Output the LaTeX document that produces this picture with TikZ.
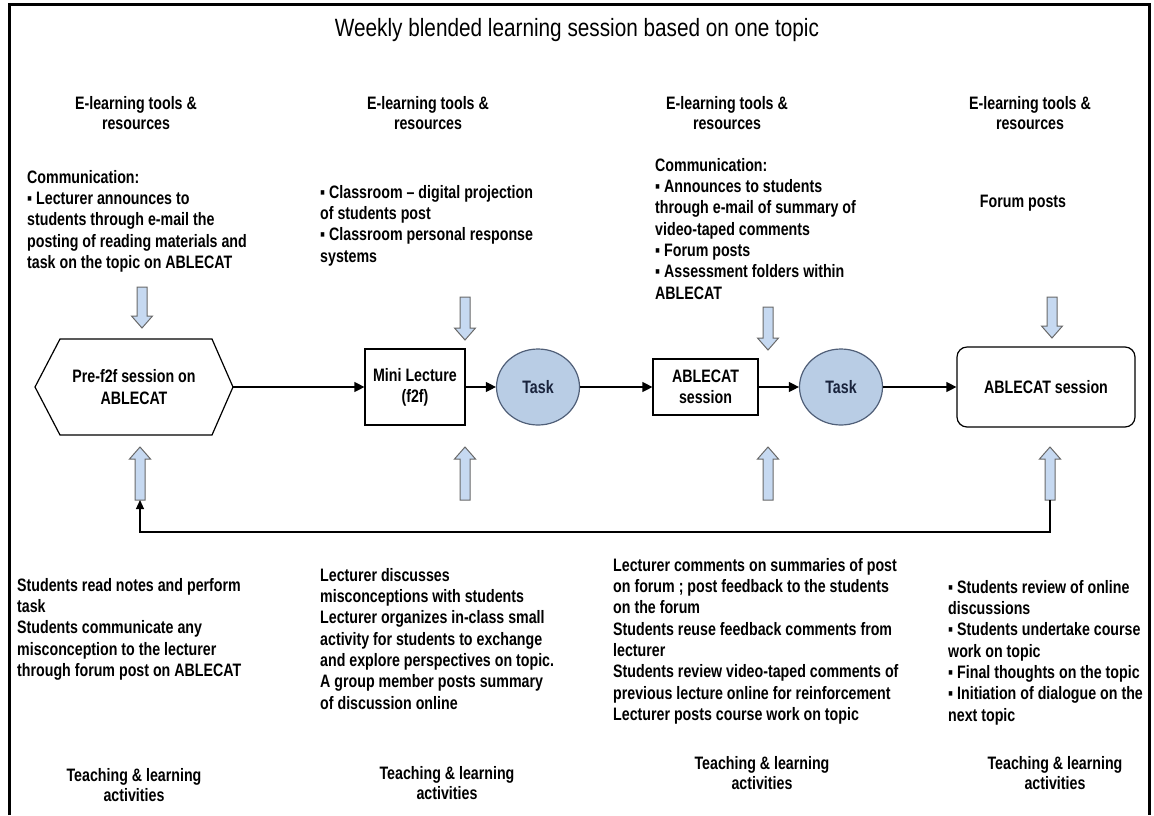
\documentclass[tikz,border=0pt]{standalone}
\usepackage{fontspec}
\setmainfont{Liberation Sans}[FakeStretch=0.79]
\newfontfamily\titlefont{Liberation Sans}[FakeStretch=0.83]
\usetikzlibrary{arrows.meta,shapes.geometric}
\definecolor{arrfill}{RGB}{198,217,241}
\definecolor{arredge}{RGB}{105,105,105}
\definecolor{taskfill}{RGB}{185,205,229}
\definecolor{taskedge}{RGB}{80,95,120}
\definecolor{tasktext}{RGB}{25,35,60}
\newcommand{\blkdown}[4]{%
  \draw[blk] (#2-5,#3) -- (#2+5,#3) -- (#2+5,#4-12) -- (#2+10.5,#4-12) -- (#2,#4) -- (#2-10.5,#4-12) -- (#2-5,#4-12) -- cycle;
  \coordinate (#1) at (#2,#4);}
\newcommand{\blkup}[4]{%
  \draw[blk] (#2-5,#4) -- (#2-5,#3+12) -- (#2-10.5,#3+12) -- (#2,#3) -- (#2+10.5,#3+12) -- (#2+5,#3+12) -- (#2+5,#4) -- cycle;
  \coordinate (#1) at (#2,#4);}
\begin{document}
\begin{tikzpicture}[x=1pt,y=-1pt,
  txt/.style={font=\bfseries\fontsize{18}{21.3}\selectfont, inner sep=0pt, align=left, anchor=north west},
  hdr/.style={font=\bfseries\fontsize{18}{20}\selectfont, inner sep=0pt, align=center, anchor=north},
  blk/.style={fill=arrfill, draw=arredge, line width=1pt},
  flow/.style={-{Triangle[length=10pt,width=10pt]}, line width=1.2pt},
  box/.style={draw, line width=1.2pt, align=center, inner sep=2pt, font=\bfseries\fontsize{18}{21.3}\selectfont},
  task/.style={ellipse, draw=taskedge, fill=taskfill, text=tasktext, line width=1.2pt, minimum width=83, minimum height=76, inner sep=0pt, font=\bfseries\fontsize{18}{21.3}\selectfont},
  frame/.style={line width=3pt}
]
\useasboundingbox (0,0) rectangle (1154,815);
% frame
\draw[frame] (9,815) -- (9,4) -- (1149,4) -- (1149,815);
% title
\node[inner sep=0pt, font=\titlefont\fontsize{25}{28}\selectfont] (title) at (577,30) {Weekly blended learning session based on one topic};
% headers
\node[hdr] (h1) at (136,96) {E-learning tools \&\\resources};
\node[hdr] (h2) at (428,96) {E-learning tools \&\\resources};
\node[hdr] (h3) at (727,96) {E-learning tools \&\\resources};
\node[hdr] (h4) at (1030,96) {E-learning tools \&\\resources};
% top texts
\node[txt] (t1) at (27,170) {Communication:\\▪ Lecturer announces to\\students through e-mail the\\posting of reading materials and\\task on the topic on ABLECAT};
\node[txt] (t2) at (320,185) {▪ Classroom – digital projection\\of students post\\▪ Classroom personal response\\systems};
\node[txt] (t3) at (655,158) {Communication:\\▪ Announces to students\\through e-mail of summary of\\video-taped comments\\▪ Forum posts\\▪ Assessment folders within\\ABLECAT};
\node[hdr] (t4) at (1023,195) {Forum posts};
% down arrows
\blkdown{da1}{142}{287}{328}
\blkdown{da2}{465}{297}{340}
\blkdown{da3}{768}{307}{350}
\blkdown{da4}{1052}{297}{338}
% main flow
\draw[line width=1.2pt] (35,387) -- (60,339) -- (212,339) -- (233,387) -- (212,435) -- (60,435) -- cycle;
\coordinate (hexR) at (233,387);
\node[align=center, inner sep=0pt, font=\bfseries\fontsize{18}{21.3}\selectfont] (hex) at (134,387) {Pre-f2f session on\\ABLECAT};
\node[box, minimum width=100, minimum height=76] (mini) at (415,387) {Mini Lecture\\(f2f)};
\node[task] (task1) at (538,387) {Task};
\node[box, minimum width=105, minimum height=56] (abl) at (705.5,387) {ABLECAT\\session};
\node[task] (task2) at (841,387) {Task};
\node[box, rounded corners=10pt, minimum width=178, minimum height=80] (fin) at (1046,387) {ABLECAT session};
\draw[flow] (hexR) -- (mini.west);
\draw[flow] (mini.east) -- (task1.west);
\draw[flow] (task1.east) -- (abl.west);
\draw[flow] (abl.east) -- (task2.west);
\draw[flow] (task2.east) -- (fin.west);
% up arrows
\blkup{ua1}{140}{447}{500}
\blkup{ua2}{465}{447}{500}
\blkup{ua3}{768}{447}{500}
\blkup{ua4}{1050}{447}{500}
\draw[line width=1.2pt, -{Triangle[length=9pt,width=8pt]}] (ua4) -- ++(0,32) -| (ua1);
% bottom texts
\node[txt] (b1) at (17,578) {Students read notes and perform\\task\\Students communicate any\\misconception to the lecturer\\through forum post on ABLECAT};
\node[txt] (b2) at (320,568) {Lecturer discusses\\misconceptions with students\\Lecturer organizes in-class small\\activity for students to exchange\\and explore perspectives on topic.\\A group member posts summary\\of discussion online};
\node[txt] (b3) at (613,558) {Lecturer comments on summaries of post\\on forum ; post feedback to the students\\on the forum\\Students reuse feedback comments from\\lecturer\\Students review video-taped comments of\\previous lecture online for reinforcement\\Lecturer posts course work on topic};
\node[txt] (b4) at (948,580) {▪ Students review of online\\discussions\\▪ Students undertake course\\work on topic\\▪ Final thoughts on the topic\\▪ Initiation of dialogue on the\\next topic};
% footers
\node[hdr] (f1) at (134,768) {Teaching \& learning\\activities};
\node[hdr] (f2) at (447,766) {Teaching \& learning\\activities};
\node[hdr] (f3) at (762,756) {Teaching \& learning\\activities};
\node[hdr] (f4) at (1055,756) {Teaching \& learning\\activities};
\end{tikzpicture}
\end{document}
